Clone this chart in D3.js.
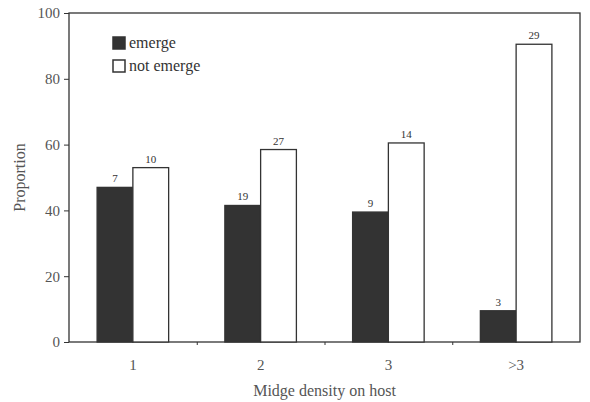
<!DOCTYPE html>
<html>
<head>
<meta charset="utf-8">
<script src="https://cdn.jsdelivr.net/npm/d3@7"></script>
<style>
  body { margin: 0; background: #fff; }
</style>
</head>
<body>
<svg width="590" height="402"></svg>
<script>
// DATA
var categories = ["1", "2", "3", ">3"],
    seriesNames = ["emerge", "not emerge"],
    emerge = [47, 41.5, 39.5, 9.5],
    notEmerge = [53, 58.5, 60.5, 90.5],
    emergeCounts = [7, 19, 9, 3],
    notEmergeCounts = [10, 27, 14, 29],
    yTicks = [0, 20, 40, 60, 80, 100];

// SETUP
var svg = d3.select("svg"),
    margin = { top: 13, right: 10, bottom: 60, left: 69 },
    width = 580 - margin.left,
    height = 342 - margin.top,
    serif = "Liberation Serif, DejaVu Serif, serif";

var rows = categories.map(function (c, i) {
    return {
        cat: c,
        values: [
            { key: seriesNames[0], v: emerge[i], n: emergeCounts[i] },
            { key: seriesNames[1], v: notEmerge[i], n: notEmergeCounts[i] }
        ]
    };
});

var x0 = d3.scaleBand().domain(categories).range([0, width]).paddingInner(0.44).paddingOuter(0.22),
    x1 = d3.scaleBand().domain(seriesNames).range([0, x0.bandwidth()]),
    y = d3.scaleLinear().domain([0, 100]).range([height, 0]),
    fill = d3.scaleOrdinal().domain(seriesNames).range(["#333", "#fff"]);

// group boundaries for x ticks
var xb = d3.scaleLinear().domain([0, categories.length]).range([0, width]);

var g = svg.append("g")
    .attr("transform", "translate(" + margin.left + "," + margin.top + ")");

// frame
g.append("rect")
    .attr("width", width).attr("height", height)
    .attr("fill", "none").attr("stroke", "#333").attr("stroke-width", 1.3);

// bars
var groups = g.selectAll(".grp")
    .data(rows)
    .enter().append("g")
    .attr("class", "grp")
    .attr("transform", function (d) { return "translate(" + x0(d.cat) + ",0)"; });

groups.selectAll("rect")
    .data(function (d) { return d.values; })
    .enter().append("rect")
    .attr("x", function (d) { return x1(d.key); })
    .attr("y", function (d) { return y(d.v); })
    .attr("width", x1.bandwidth())
    .attr("height", function (d) { return height - y(d.v); })
    .attr("fill", function (d) { return fill(d.key); })
    .attr("stroke", "#333")
    .attr("stroke-width", 1.3);

groups.selectAll(".cnt")
    .data(function (d) { return d.values; })
    .enter().append("text")
    .attr("class", "cnt")
    .attr("x", function (d) { return x1(d.key) + x1.bandwidth() / 2; })
    .attr("y", function (d) { return y(d.v) - 5; })
    .attr("text-anchor", "middle")
    .attr("font-family", serif)
    .attr("font-size", 11)
    .attr("fill", "#333")
    .text(function (d) { return d.n; });

// y axis
var yAxis = g.append("g")
    .call(d3.axisLeft(y).tickValues(yTicks).tickSize(5).tickPadding(4));
yAxis.attr("font-family", serif).attr("font-size", 15);
yAxis.select(".domain").remove();
yAxis.selectAll("line").attr("stroke", "#333");
yAxis.selectAll("text").attr("fill", "#555");

// x axis
var xAxis = g.append("g")
    .attr("transform", "translate(0," + height + ")")
    .call(d3.axisBottom(xb).tickValues(d3.range(1, categories.length)).tickSize(3).tickFormat(""));
xAxis.select(".domain").remove();
xAxis.selectAll("line").attr("stroke", "#333");

g.selectAll(".xlab")
    .data(categories)
    .enter().append("text")
    .attr("class", "xlab")
    .attr("x", function (d) { return x0(d) + x0.bandwidth() / 2; })
    .attr("y", height + 28)
    .attr("text-anchor", "middle")
    .attr("font-family", serif)
    .attr("font-size", 15)
    .attr("fill", "#555")
    .text(function (d) { return d; });

// axis titles
svg.append("text")
    .attr("transform", "translate(25," + (margin.top + height / 2) + ") rotate(-90)")
    .attr("text-anchor", "middle")
    .attr("font-family", serif)
    .attr("font-size", 16)
    .attr("fill", "#555")
    .text("Proportion");

svg.append("text")
    .attr("x", margin.left + width / 2)
    .attr("y", 396)
    .attr("text-anchor", "middle")
    .attr("font-family", serif)
    .attr("font-size", 16)
    .attr("fill", "#555")
    .text("Midge density on host");

// legend
var legend = svg.selectAll(".leg")
    .data(seriesNames)
    .enter().append("g")
    .attr("class", "leg")
    .attr("transform", function (d, i) { return "translate(113," + (37 + i * 23) + ")"; });

legend.append("rect")
    .attr("width", 12).attr("height", 12)
    .attr("fill", function (d) { return fill(d); })
    .attr("stroke", "#333").attr("stroke-width", 1.5);

legend.append("text")
    .attr("x", 16).attr("y", 11)
    .attr("font-family", serif)
    .attr("font-size", 16)
    .attr("fill", "#333")
    .text(function (d) { return d; });
</script>
</body>
</html>
